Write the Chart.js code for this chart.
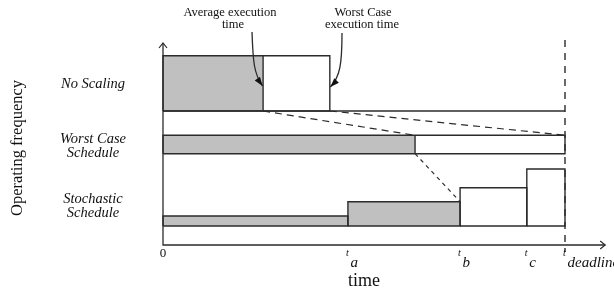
<!DOCTYPE html>
<html>
<head>
<meta charset="utf-8">
<script src="https://cdn.jsdelivr.net/npm/chart.js@4/dist/chart.umd.min.js"></script>
<style>
  html, body { margin: 0; padding: 0; background: #fff; }
  #wrap { width: 614px; height: 290px; }
</style>
</head>
<body>
<div id="wrap"><canvas id="chart" width="614" height="290"></canvas></div>
<script>
// DATA (time: deadline = 10, frequency: arbitrary units)
const tickTimes = [0, 4.6, 7.39, 9.05, 10];
const tickNames = ["0", "a", "b", "c", "deadline"];

const rowNames = [["No Scaling"], ["Worst Case", "Schedule"], ["Stochastic", "Schedule"]];
const rowLabelY = [161, 99, 39];

// no scaling: avg finish, worst case finish
const noScalingBase = 134;
const noScalingFreq = 55.3;
const noScalingTimes = [2.49, 4.15];

// worst case schedule: avg finish
const worstBase = 91.3;
const worstFreq = 18.4;
const worstAvgEnd = 6.27;

// stochastic schedule steps
const stochBase = 19;
const stochStarts = [0, 4.6, 7.39, 9.05];
const stochFreq = [10, 24.3, 38.3, 57];
const stochGraySteps = 2;

const deadline = 10;
const axisEnd = 11;
const axisTop = 202;

const GRAY = "#c0c0c0";
const INK = "#2b2b2b";

// HELPERS
function seg(points, extra) {
    return Object.assign({
        data: points.map(p => ({ x: p[0], y: p[1] })),
        showLine: true,
        pointRadius: 0,
        borderColor: INK,
        borderWidth: 1.4,
        backgroundColor: "transparent",
        fill: false,
        clip: false,
        order: 0
    }, extra || {});
}

// fills are drawn first (higher order goes underneath)
function rectFill(x0, x1, base, h) {
    return seg([[x0, base + h], [x1, base + h]], {
        borderWidth: 0, fill: { value: base }, backgroundColor: GRAY, order: 5
    });
}

function rectLine(x0, x1, base, h) {
    return seg([[x0, base], [x0, base + h], [x1, base + h], [x1, base], [x0, base]]);
}

const datasets = [];

// no scaling row
datasets.push(rectFill(0, noScalingTimes[0], noScalingBase, noScalingFreq));
datasets.push(rectLine(0, noScalingTimes[1], noScalingBase, noScalingFreq));
datasets.push(seg([[noScalingTimes[0], noScalingBase], [noScalingTimes[0], noScalingBase + noScalingFreq]]));
datasets.push(seg([[0, noScalingBase], [deadline, noScalingBase]]));

// worst case row
datasets.push(rectFill(0, worstAvgEnd, worstBase, worstFreq));
datasets.push(rectLine(0, deadline, worstBase, worstFreq));
datasets.push(seg([[worstAvgEnd, worstBase], [worstAvgEnd, worstBase + worstFreq]]));

// stochastic row
stochStarts.forEach((s, i) => {
    const e = i + 1 < stochStarts.length ? stochStarts[i + 1] : deadline;
    if (i < stochGraySteps) datasets.push(rectFill(s, e, stochBase, stochFreq[i]));
    datasets.push(rectLine(s, e, stochBase, stochFreq[i]));
});

// dashed connectors
const dash = { borderDash: [7, 5], borderWidth: 1.2 };
datasets.push(seg([[noScalingTimes[0], noScalingBase], [worstAvgEnd, worstBase + worstFreq]], dash));
datasets.push(seg([[noScalingTimes[1], noScalingBase], [deadline, worstBase + worstFreq]], dash));
datasets.push(seg([[worstAvgEnd, worstBase], [stochStarts[stochGraySteps], stochBase + stochFreq[stochGraySteps - 1]]], { borderDash: [4, 4], borderWidth: 1.2 }));

// deadline
datasets.push(seg([[deadline, 205], [deadline, -7]], { borderDash: [7, 6], borderWidth: 1.4 }));

// axes
datasets.push(seg([[0, axisTop], [0, 0], [axisEnd, 0]], { borderWidth: 1.3 }));

// TEXT + ARROWS
const serif = "'Liberation Serif', 'Times New Roman', serif";

const overlay = {
    id: "overlay",
    afterDatasetsDraw(chart) {
        const ctx = chart.ctx;
        const xs = chart.scales.x, ys = chart.scales.y;
        const X = v => xs.getPixelForValue(v);
        const Y = v => ys.getPixelForValue(v);
        ctx.save();
        ctx.fillStyle = "#111";
        ctx.strokeStyle = INK;

        // axis arrow heads
        ctx.lineWidth = 1.2;
        ctx.beginPath();
        ctx.moveTo(X(0) - 4, Y(axisTop) + 5); ctx.lineTo(X(0), Y(axisTop)); ctx.lineTo(X(0) + 4, Y(axisTop) + 5);
        ctx.moveTo(X(axisEnd) - 5, Y(0) - 4); ctx.lineTo(X(axisEnd), Y(0)); ctx.lineTo(X(axisEnd) - 5, Y(0) + 4);
        ctx.stroke();

        // tick labels
        ctx.textBaseline = "middle";
        tickTimes.forEach((t, i) => {
            const px = X(t);
            if (tickNames[i] === "0") {
                ctx.font = "13px " + serif;
                ctx.textAlign = "center";
                ctx.fillText("0", px, 254);
                return;
            }
            ctx.textAlign = "left";
            ctx.font = "italic 10px " + serif;
            ctx.fillText("t", px - 2, 253);
            ctx.font = "italic 15px " + serif;
            ctx.fillText(tickNames[i], px + 2.5, 263);
        });

        // x title
        ctx.textAlign = "center";
        ctx.font = "18px " + serif;
        ctx.fillText("time", 364, 281);

        // y title
        ctx.save();
        ctx.translate(18, 148);
        ctx.rotate(-Math.PI / 2);
        ctx.font = "16.5px " + serif;
        ctx.fillText("Operating frequency", 0, 0);
        ctx.restore();

        // row labels
        ctx.font = "italic 14.5px " + serif;
        rowNames.forEach((lines, i) => {
            const cy = Y(rowLabelY[i]);
            lines.forEach((s, j) => {
                ctx.fillText(s, 93, cy + (j - (lines.length - 1) / 2) * 14);
            });
        });

        // annotations
        ctx.font = "12.5px " + serif;
        ctx.fillText("Average execution", 230, 13);
        ctx.fillText("time", 233, 25);
        ctx.fillText("Worst Case", 363, 13);
        ctx.fillText("execution time", 362, 25);

        function curvedArrow(x0, y0, c1x, c1y, c2x, c2y, x1, y1) {
            ctx.lineWidth = 1.3;
            ctx.beginPath();
            ctx.moveTo(x0, y0);
            ctx.bezierCurveTo(c1x, c1y, c2x, c2y, x1, y1);
            ctx.stroke();
            const a = Math.atan2(y1 - c2y, x1 - c2x);
            const L = 9, W = 3.2;
            ctx.beginPath();
            ctx.moveTo(x1, y1);
            ctx.lineTo(x1 - L * Math.cos(a) + W * Math.sin(a), y1 - L * Math.sin(a) - W * Math.cos(a));
            ctx.lineTo(x1 - L * Math.cos(a) - W * Math.sin(a), y1 - L * Math.sin(a) + W * Math.cos(a));
            ctx.closePath();
            ctx.fill();
        }
        const ax = X(noScalingTimes[0]), wx = X(noScalingTimes[1]);
        curvedArrow(252, 32, 253, 62, 254, 74, ax - 0.5, 86);
        curvedArrow(342, 33, 342, 64, 340, 77, wx + 0.5, 87);

        ctx.restore();
    }
};

new Chart(document.getElementById("chart"), {
    type: "scatter",
    data: { datasets: datasets },
    options: {
        responsive: false,
        devicePixelRatio: 1,
        animation: false,
        layout: { padding: 0 },
        scales: {
            x: { type: "linear", display: false, min: -4.0547, max: 11.2189 },
            y: { type: "linear", display: false, min: -45, max: 245 }
        },
        plugins: { legend: { display: false }, tooltip: { enabled: false } }
    },
    plugins: [overlay]
});
</script>
</body>
</html>
